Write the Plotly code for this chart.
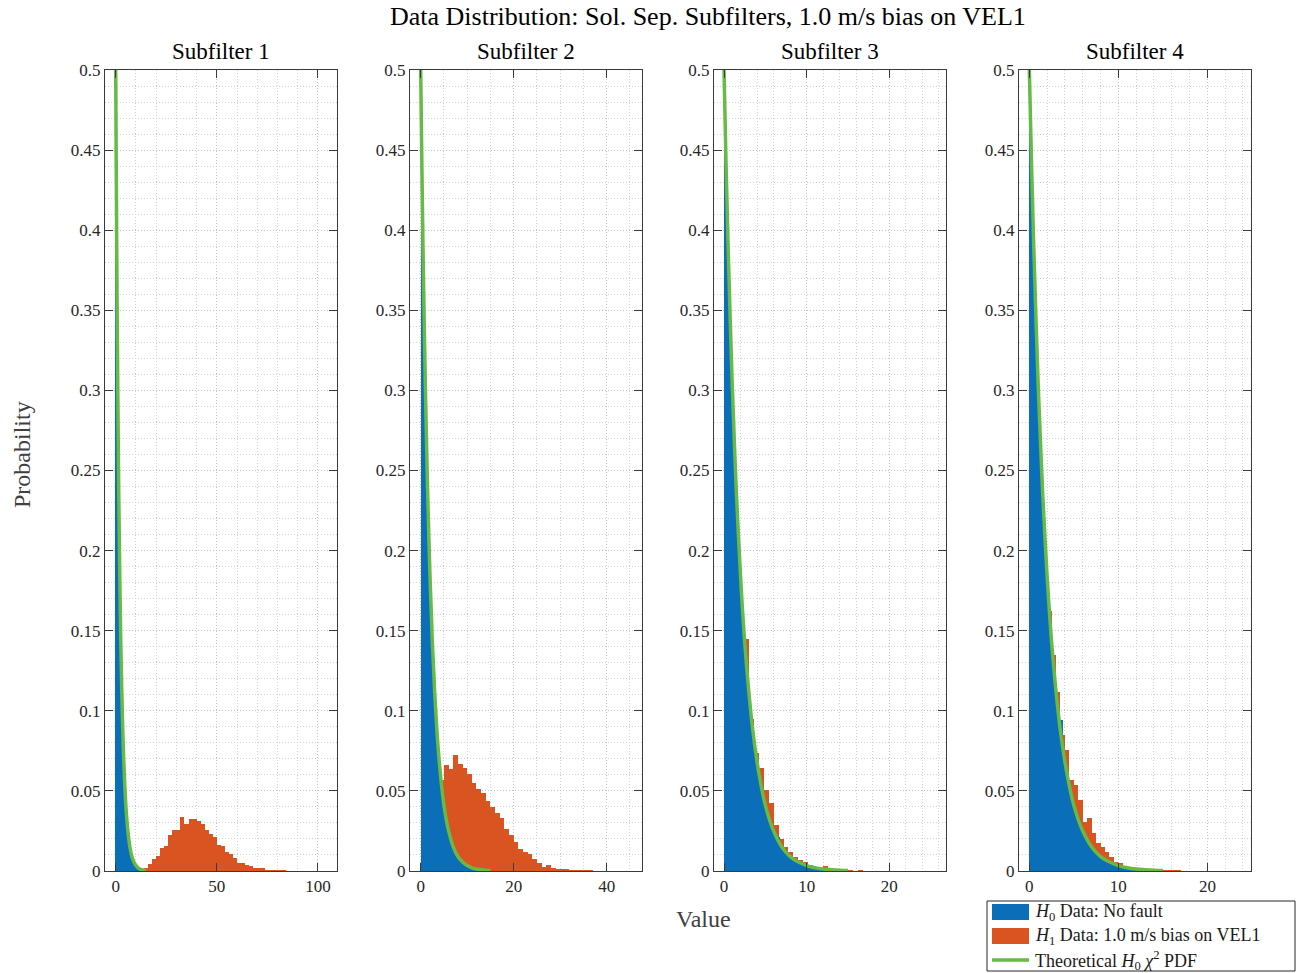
import plotly.graph_objects as go

# ---------------- data ----------------
SUBPLOT_TITLES = ["Subfilter 1", "Subfilter 2", "Subfilter 3", "Subfilter 4"]
Y_TICKS = [0, 0.05, 0.1, 0.15, 0.2, 0.25, 0.3, 0.35, 0.4, 0.45, 0.5]
Y_TICK_TEXT = ["0", "0.05", "0.1", "0.15", "0.2", "0.25", "0.3", "0.35", "0.4", "0.45", "0.5"]
X_TICKS = [[0, 50, 100], [0, 20, 40], [0, 10, 20], [0, 10, 20]]
LEGEND_LABELS = ["<i>H</i><sub>0</sub> Data: No fault",
                 "<i>H</i><sub>1</sub> Data: 1.0 m/s bias on VEL1",
                 "Theoretical <i>H</i><sub>0</sub> <i>χ</i><sup>2</sup> PDF"]

# theoretical H0 chi^2 pdf curve
PDF_X = [0, 0.25, 0.5, 0.75, 1, 1.25, 1.5, 2, 2.5, 3, 3.5, 4, 4.5, 5, 5.5, 6, 7, 8, 9, 10, 11, 12, 13, 14, 15]
PDF_Y = [0.5, 0.441, 0.389, 0.344, 0.303, 0.268, 0.236, 0.184, 0.143, 0.112, 0.087, 0.068, 0.053, 0.041,
         0.032, 0.025, 0.015, 0.009, 0.0056, 0.0034, 0.002, 0.0012, 0.0008, 0.0005, 0.0003]

# H0 histograms (bin start, bin width, heights)
H0_S1_START, H0_S1_WIDTH = 0, 0.5
H0_S1 = [0.442, 0.343, 0.268, 0.209, 0.162, 0.127, 0.098, 0.077, 0.060, 0.046, 0.036, 0.028, 0.022, 0.017,
         0.013, 0.010, 0.008, 0.006, 0.005, 0.004, 0.003, 0.002, 0.0018, 0.0014, 0.001, 0.0008, 0.0006, 0.0005]
H0_S2_START, H0_S2_WIDTH = 0, 0.5
H0_S2 = [0.441, 0.345, 0.267, 0.208, 0.163, 0.126, 0.099, 0.076, 0.060, 0.047, 0.036, 0.029, 0.022, 0.017,
         0.013, 0.011, 0.008, 0.006, 0.005, 0.004, 0.003, 0.0023, 0.0018, 0.0014, 0.0011, 0.0009, 0.0006, 0.0005]
H0_S3_START, H0_S3_WIDTH = 0, 0.25
H0_S3 = [0.470, 0.415, 0.366, 0.323, 0.285, 0.251, 0.222, 0.196, 0.173, 0.152, 0.135, 0.119, 0.105, 0.092,
         0.082, 0.072, 0.064, 0.056, 0.050, 0.044, 0.038, 0.034, 0.030, 0.027, 0.023, 0.021, 0.0214, 0.016,
         0.014, 0.0125, 0.011, 0.0097, 0.0086, 0.0076, 0.0067, 0.0059, 0.0052, 0.0046, 0.0041, 0.0036, 0.0032,
         0.0028, 0.0025, 0.0022, 0.0019, 0.0017, 0.0015, 0.0013, 0.0012, 0.0010, 0.0009, 0.0008]
H0_S4_START, H0_S4_WIDTH = 0, 0.25
H0_S4 = [0.468, 0.416, 0.365, 0.324, 0.284, 0.252, 0.221, 0.197, 0.172, 0.153, 0.134, 0.120, 0.104, 0.093,
         0.094, 0.071, 0.063, 0.057, 0.049, 0.044, 0.039, 0.034, 0.030, 0.026, 0.024, 0.020, 0.018, 0.016,
         0.014, 0.013, 0.011, 0.0098, 0.0085, 0.0077, 0.0066, 0.006, 0.0052, 0.0045, 0.0041, 0.0036, 0.0031,
         0.0028, 0.0025, 0.0021, 0.002, 0.0017, 0.0015, 0.0013, 0.0011, 0.001, 0.0009, 0.0008]

# H1 histograms (bin start, bin width, heights)
H1_S1_START, H1_S1_WIDTH = 14, 2
H1_S1 = [0.002, 0.0046, 0.0075, 0.0096, 0.0146, 0.0158, 0.0225, 0.0254, 0.0258, 0.0339, 0.0295, 0.0323,
         0.0323, 0.0312, 0.0291, 0.0258, 0.0233, 0.0212, 0.0162, 0.0158, 0.012, 0.0104, 0.0079, 0.0048,
         0.0048, 0.0037, 0.0031, 0.002, 0.0017, 0.0017, 0.0006, 0.0004, 0.0004, 0.0003, 0.0002]
H1_S2_START, H1_S2_WIDTH = 0, 1
H1_S2 = [0.012, 0.03, 0.042, 0.05, 0.057, 0.066, 0.0635, 0.0722, 0.0668, 0.0643, 0.0605, 0.0547, 0.051,
         0.0489, 0.0439, 0.0397, 0.0364, 0.0329, 0.026, 0.0225, 0.0183, 0.0135, 0.0119, 0.0106, 0.0077,
         0.0048, 0.0027, 0.0037, 0.0019, 0.0015, 0.0008, 0.0008, 0.0003, 0.0002, 0.0001, 0.0001, 0.0002]
H1_S3_START, H1_S3_WIDTH = 0, 0.6
H1_S3 = [0.38, 0.28, 0.21, 0.165, 0.145, 0.095, 0.0735, 0.064, 0.0506, 0.0423, 0.029, 0.02, 0.0152, 0.012,
         0.0085, 0.0069, 0.0054, 0.0037, 0.002, 0.0015, 0.0033, 0.001, 0.0008, 0.0004, 0.0003, 0.0002, 0, 0.0006]
H1_S4_START, H1_S4_WIDTH = 0, 0.5
H1_S4 = [0.39, 0.31, 0.25, 0.2, 0.162, 0.135, 0.112, 0.085, 0.0755, 0.0568, 0.0537, 0.0443, 0.0308, 0.033,
         0.0235, 0.0177, 0.0152, 0.0117, 0.009, 0.0058, 0.0048, 0.0027, 0.0027, 0.0017, 0.0017, 0.002, 0.0008,
         0.0012, 0.0008, 0.0004, 0.0006, 0.0002, 0.0002, 0.0004]

# ---------------- styling / layout ----------------
W, H = 1297, 973
FONT = "Liberation Serif, serif"
BLUE = "#0B6EB8"
ORANGE = "#D95420"
GREEN = "#66BA45"
AX = "#3a3a3a"
GRID_MAJOR = "#c4c4c4"
GRID_MINOR = "#d2d2d2"
TXT = "#262626"

PLOT_TOP, PLOT_BOTTOM = 70, 871
PANELS = [
    dict(h0=(H0_S1_START, H0_S1_WIDTH, H0_S1), h1=(H1_S1_START, H1_S1_WIDTH, H1_S1),
         xr=[-5.3, 109.4], minor=10, px=(105, 337)),
    dict(h0=(H0_S2_START, H0_S2_WIDTH, H0_S2), h1=(H1_S2_START, H1_S2_WIDTH, H1_S2),
         xr=[-2.3, 47.6], minor=5, px=(410, 642)),
    dict(h0=(H0_S3_START, H0_S3_WIDTH, H0_S3), h1=(H1_S3_START, H1_S3_WIDTH, H1_S3),
         xr=[-1.21, 26.85], minor=2, px=(714, 946)),
    dict(h0=(H0_S4_START, H0_S4_WIDTH, H0_S4), h1=(H1_S4_START, H1_S4_WIDTH, H1_S4),
         xr=[-1.16, 24.9], minor=2, px=(1019, 1251)),
]


def px_x(v):
    return v / W


def px_y(v):
    return 1 - v / H


fig = go.Figure()
ydom = [px_y(PLOT_BOTTOM), px_y(PLOT_TOP)]
layout = dict(
    width=W, height=H, margin=dict(l=0, r=0, t=0, b=0, autoexpand=False),
    paper_bgcolor="white", plot_bgcolor="white",
    barmode="overlay", bargap=0, bargroupgap=0,
    font=dict(family=FONT, size=16, color=TXT),
    showlegend=False,
)

annotations = []
shapes = []
for k, p in enumerate(PANELS):
    xa = "x" if k == 0 else f"x{k+1}"
    ya = "y" if k == 0 else f"y{k+1}"
    s1, w1, v1 = p["h1"]
    s0, w0, v0 = p["h0"]
    fig.add_trace(go.Bar(
        x=[s1 + i * w1 for i in range(len(v1))], y=v1, width=w1, offset=0,
        marker=dict(color=ORANGE, line=dict(width=0)), xaxis=xa, yaxis=ya,
        name="H1 Data: 1.0 m/s bias on VEL1", hoverinfo="skip"))
    fig.add_trace(go.Bar(
        x=[s0 + i * w0 for i in range(len(v0))], y=v0, width=w0, offset=0,
        marker=dict(color=BLUE, line=dict(width=0)), xaxis=xa, yaxis=ya,
        name="H0 Data: No fault", hoverinfo="skip"))
    fig.add_trace(go.Scatter(
        x=PDF_X, y=PDF_Y, mode="lines", line=dict(color=GREEN, width=3.5, shape="spline"),
        xaxis=xa, yaxis=ya, name="Theoretical H0 chi2 PDF", hoverinfo="skip"))

    x0, x1 = p["px"]
    common = dict(
        ticks="inside", ticklen=8, tickcolor=AX, tickwidth=1,
        showline=True, linecolor=AX, linewidth=1, mirror="ticks",
        showgrid=True, gridcolor=GRID_MAJOR, griddash="1px,2px", gridwidth=1, zeroline=False,
        tickfont=dict(family=FONT, size=17, color=TXT), fixedrange=True)
    layout["xaxis" if k == 0 else f"xaxis{k+1}"] = dict(
        domain=[px_x(x0), px_x(x1)], range=p["xr"], anchor=ya,
        tickmode="array", tickvals=X_TICKS[k], ticktext=[str(t) for t in X_TICKS[k]],
        minor=dict(tickmode="linear", tick0=0, dtick=p["minor"], showgrid=True,
                   gridcolor=GRID_MINOR, griddash="1px,2px", gridwidth=1, ticks=""),
        **common)
    layout["yaxis" if k == 0 else f"yaxis{k+1}"] = dict(
        domain=ydom, range=[0, 0.5], anchor=xa,
        tickmode="array", tickvals=Y_TICKS, ticktext=Y_TICK_TEXT,
        minor=dict(tickmode="linear", tick0=0, dtick=0.01, showgrid=True,
                   gridcolor=GRID_MINOR, griddash="1px,2px", gridwidth=1, ticks=""),
        **common)
    annotations.append(dict(
        text=SUBPLOT_TITLES[k], x=px_x((x0 + x1) / 2), y=px_y(52), xref="paper", yref="paper",
        xanchor="center", yanchor="middle", showarrow=False,
        font=dict(family=FONT, size=23, color="#000000")))

annotations.append(dict(
    text="Data Distribution: Sol. Sep. Subfilters, 1.0 m/s bias on VEL1",
    x=px_x(708), y=px_y(16), xref="paper", yref="paper", xanchor="center", yanchor="middle",
    showarrow=False, font=dict(family=FONT, size=26, color="#000000")))
annotations.append(dict(
    text="Value", x=px_x(703), y=px_y(919), xref="paper", yref="paper", xanchor="center",
    yanchor="middle", showarrow=False, font=dict(family=FONT, size=24, color="#404040")))
annotations.append(dict(
    text="Probability", x=px_x(22), y=px_y(455), xref="paper", yref="paper", xanchor="center",
    yanchor="middle", textangle=-90, showarrow=False, font=dict(family=FONT, size=24, color="#404040")))

# legend box (drawn in paper space, bottom right corner)
LB_L, LB_T, LB_R, LB_B = 987, 901, 1295, 971
shapes.append(dict(type="rect", xref="paper", yref="paper",
                   x0=px_x(LB_L), x1=px_x(LB_R), y0=px_y(LB_B), y1=px_y(LB_T),
                   line=dict(color="#262626", width=1), fillcolor="white", layer="above"))
row_y = [912, 936, 960]
shapes.append(dict(type="rect", xref="paper", yref="paper", x0=px_x(992), x1=px_x(1029),
                   y0=px_y(row_y[0] + 8), y1=px_y(row_y[0] - 8), line=dict(width=0),
                   fillcolor=BLUE, layer="above"))
shapes.append(dict(type="rect", xref="paper", yref="paper", x0=px_x(992), x1=px_x(1029),
                   y0=px_y(row_y[1] + 8), y1=px_y(row_y[1] - 8), line=dict(width=0),
                   fillcolor=ORANGE, layer="above"))
shapes.append(dict(type="line", xref="paper", yref="paper", x0=px_x(992), x1=px_x(1029),
                   y0=px_y(row_y[2]), y1=px_y(row_y[2]), line=dict(color=GREEN, width=3.5),
                   layer="above"))
for lbl, yy in zip(LEGEND_LABELS, row_y):
    annotations.append(dict(
        text=lbl, x=px_x(1033), y=px_y(yy), xref="paper", yref="paper", xanchor="left",
        yanchor="middle", showarrow=False, font=dict(family=FONT, size=18, color="#1a1a1a")))

layout["annotations"] = annotations
layout["shapes"] = shapes

fig.update_layout(**layout)
fig.write_html("out.html")
